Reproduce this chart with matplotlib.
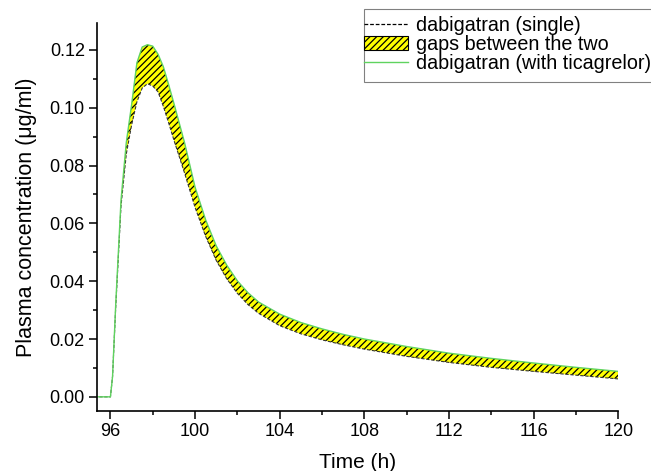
import numpy as np
import matplotlib.pyplot as plt
from matplotlib.patches import Patch, Rectangle
from matplotlib.lines import Line2D
from matplotlib.ticker import MultipleLocator

plt.rcParams['font.family'] = ['Liberation Sans', 'DejaVu Sans']
plt.rcParams['hatch.linewidth'] = 0.9
plt.rcParams['hatch.color'] = 'black'

# time after first dose (h)
t = [95.0, 96.0, 96.1, 96.25, 96.5, 96.75, 97.0, 97.25, 97.5, 97.75, 98.0,
     98.25, 98.5, 98.75, 99.0, 99.5, 100.0, 100.5, 101.0, 101.5, 102.0,
     102.5, 103.0, 104.0, 105.0, 106.0, 107.0, 108.0, 110.0, 112.0, 114.0,
     116.0, 118.0, 120.0]

# dabigatran alone (ug/ml)
single = [0.0, 0.0, 0.007, 0.031, 0.066, 0.084, 0.094, 0.102, 0.1068, 0.1083,
          0.1075, 0.1055, 0.1005, 0.0948, 0.0888, 0.0775, 0.0655, 0.0555,
          0.0472, 0.0408, 0.0358, 0.0319, 0.0289, 0.0246, 0.0218, 0.0197,
          0.0180, 0.0165, 0.0140, 0.0119, 0.0102, 0.0088, 0.0075, 0.0062]

# dabigatran co-administered with ticagrelor (ug/ml)
combo = [0.0, 0.0, 0.007, 0.032, 0.068, 0.088, 0.101, 0.1155, 0.121, 0.1218,
         0.1213, 0.1185, 0.1142, 0.108, 0.1015, 0.088, 0.0725, 0.0612,
         0.0522, 0.0455, 0.0401, 0.0360, 0.0328, 0.0286, 0.0257, 0.0235,
         0.0216, 0.0200, 0.0174, 0.0151, 0.0133, 0.0117, 0.0102, 0.0088]

xticks = [96, 100, 104, 108, 112, 116, 120]
yticks = [0.00, 0.02, 0.04, 0.06, 0.08, 0.10, 0.12]

green = '#5fd35f'
dash = (0, (3, 1.5))
W, H = 651, 471

fig = plt.figure(figsize=(W / 100, H / 100), dpi=100)
ax = fig.add_axes([0.1485, 0.128, 0.8013, 0.8225])

ax.fill_between(t, single, combo, facecolor='#ffff00', edgecolor='black',
                linewidth=0, hatch='/////')
ax.plot(t, single, color='#333333', linestyle=dash, linewidth=0.8)
ax.plot(t, combo, color=green, linewidth=1.0)

ax.set_xlim(95.35, 120)
ax.set_ylim(-0.0048, 0.1292)
ax.set_xticks(xticks)
ax.set_yticks(yticks)
ax.set_yticklabels(['%.2f' % v for v in yticks])
ax.xaxis.set_minor_locator(MultipleLocator(2))
ax.yaxis.set_minor_locator(MultipleLocator(0.01))
ax.tick_params(which='major', direction='out', length=6, width=1.1,
               labelsize=13, pad=2.5)
ax.tick_params(which='minor', direction='out', length=3, width=1.1)

for side in ['top', 'right']:
    ax.spines[side].set_visible(False)
for side in ['left', 'bottom']:
    ax.spines[side].set_linewidth(1.2)

ax.set_xlabel('Time (h)', fontsize=15, labelpad=10)
ax.set_ylabel('Plasma concentration (\u03bcg/ml)', fontsize=15.5, labelpad=9)

# legend box runs off the right edge of the figure
fig.patches.append(Rectangle((364 / W, 1 - 82 / H), 300 / W, 73 / H,
                             transform=fig.transFigure, facecolor='white',
                             edgecolor='#808080', linewidth=0.8, zorder=3))

handles = [
    Line2D([], [], color='black', linestyle=dash, linewidth=0.9),
    Patch(facecolor='#ffff00', edgecolor='black', linewidth=0.8,
          hatch='/////'),
    Line2D([], [], color=green, linewidth=1.0),
]
labels = ['dabigatran (single)', 'gaps between the two',
          'dabigatran (with ticagrelor)']
leg = fig.legend(handles, labels, loc='upper left',
                 bbox_to_anchor=(364 / W, 1 - 16 / H),
                 fontsize=14.2, frameon=False, borderpad=0,
                 handlelength=2.25, handleheight=0.75, handletextpad=0.4,
                 labelspacing=0.0, borderaxespad=0)
leg.set_zorder(4)

fig.savefig('out.png', dpi=100)
